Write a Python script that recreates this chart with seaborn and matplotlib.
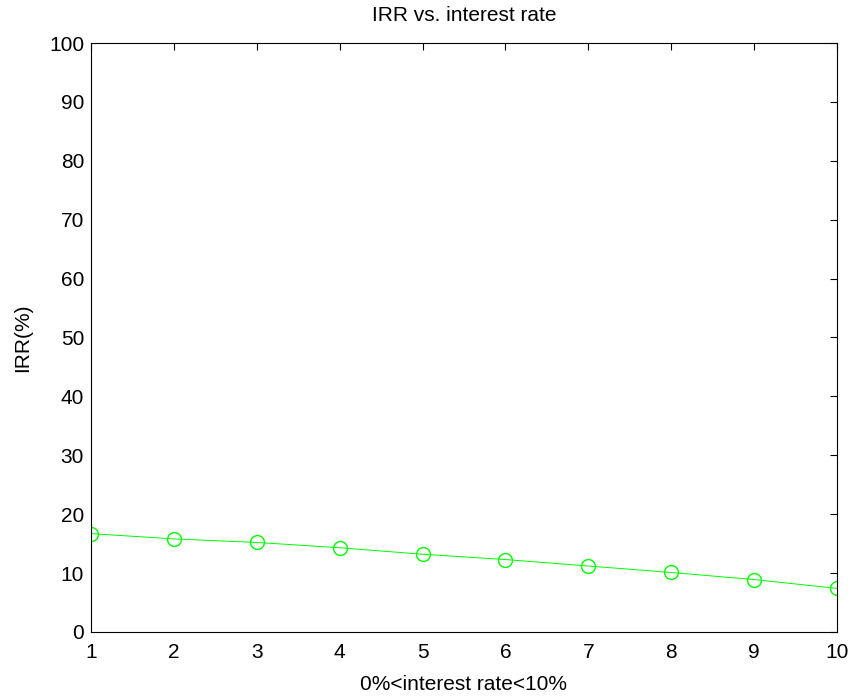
import matplotlib
matplotlib.use("Agg")
import matplotlib.pyplot as plt
import seaborn as sns
import pandas as pd

interest_rate = [1, 2, 3, 4, 5, 6, 7, 8, 9, 10]
irr = [16.7, 15.8, 15.2, 14.3, 13.2, 12.3, 11.2, 10.1, 8.9, 7.4]
x_ticks = list(range(1, 11))
y_ticks = list(range(0, 101, 10))

sns.set_theme(style="white")
plt.rcParams['font.family'] = ['Liberation Sans', 'DejaVu Sans']
plt.rcParams['text.color'] = 'black'
plt.rcParams['axes.labelcolor'] = 'black'

df = pd.DataFrame({"rate": interest_rate, "irr": irr})

fig = plt.figure(figsize=(8.53, 6.97), dpi=100)
ax = fig.add_axes([0.1067, 0.0933, 0.8745, 0.845])
sns.lineplot(data=df, x="rate", y="irr", ax=ax, color="#00ff00", linewidth=0.7,
             marker="o", markersize=10, markerfacecolor="none",
             markeredgecolor="#00ff00", markeredgewidth=1.0)

fs = 15
ax.set_xlim(1, 10)
ax.set_ylim(0, 100)
ax.set_xticks(x_ticks)
ax.set_yticks(y_ticks)
ax.tick_params(direction="in", length=5, width=0.8, top=True, right=True,
               labelsize=fs, colors="black")
ax.tick_params(axis="x", pad=8)
ax.tick_params(axis="y", pad=5)
for s in ax.spines.values():
    s.set_color("black")
    s.set_linewidth(0.8)
    s.set_visible(True)
ax.set_xlabel("0%<interest rate<10%", fontsize=fs, labelpad=9, color="black")
ax.set_ylabel("IRR(%)", fontsize=fs, labelpad=12, color="black")
ax.set_title("IRR vs. interest rate", fontsize=fs, pad=16, color="black")
ax.grid(False)
fig.savefig("out.png", dpi=100)
